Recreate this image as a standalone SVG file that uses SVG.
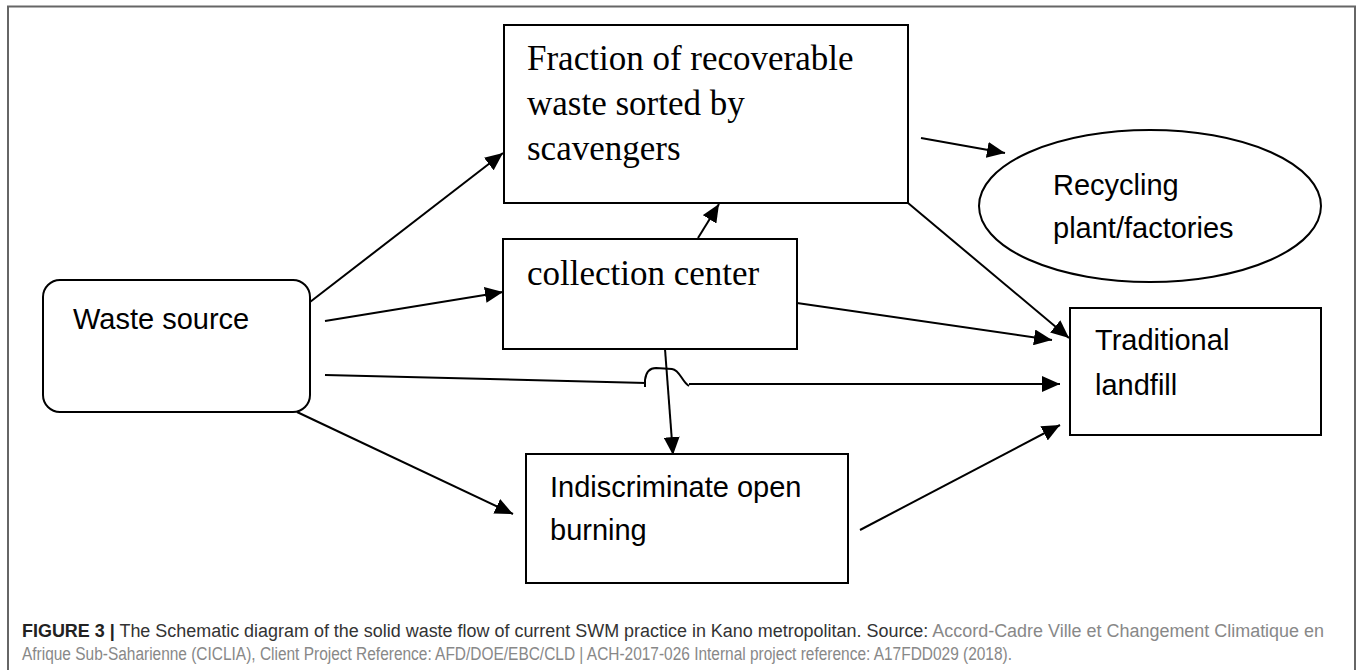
<svg xmlns="http://www.w3.org/2000/svg" width="1357" height="670" viewBox="0 0 1357 670">
<style>
.box{fill:#fff;stroke:#000;stroke-width:2}
.edge{fill:none;stroke:#000;stroke-width:2}
.serif{font-family:"Liberation Serif","Times New Roman",serif;font-size:35px;fill:#000}
.sans{font-family:"Liberation Sans",Arial,sans-serif;font-size:29px;fill:#000}
.cap{font-family:"Liberation Sans",Arial,sans-serif;font-size:18px}
</style>
<defs>
<marker id="ah" markerUnits="userSpaceOnUse" markerWidth="20" markerHeight="16" refX="18" refY="8" orient="auto">
<path d="M0,0 L18,8 L0,16 z" fill="#000"/>
</marker>
</defs>
<rect width="1357" height="670" fill="#fff"/>
<path d="M8,670 L8,6.5 L1355,6.5 L1355,670" fill="none" stroke="#666" stroke-width="2"/>

<g id="connectors">
<line class="edge" x1="310" y1="302" x2="503" y2="153" marker-end="url(#ah)"/>
<line class="edge" x1="325" y1="321" x2="503" y2="292" marker-end="url(#ah)"/>
<path class="edge" d="M325,375 L646,383 M645,387 L645,380 C646,372 650,368 656,368 L672,369 C680,370 682,382 689,386"/>
<line class="edge" x1="689" y1="384" x2="1060" y2="384" marker-end="url(#ah)"/>
<line class="edge" x1="297" y1="412" x2="513" y2="514" marker-end="url(#ah)"/>
<line class="edge" x1="698" y1="238" x2="719" y2="204" marker-end="url(#ah)"/>
<line class="edge" x1="665" y1="349" x2="673" y2="455" marker-end="url(#ah)"/>
<line class="edge" x1="921" y1="138" x2="1005" y2="153" marker-end="url(#ah)"/>
<line class="edge" x1="908" y1="203" x2="1069" y2="338" marker-end="url(#ah)"/>
<line class="edge" x1="797" y1="303" x2="1052" y2="340" marker-end="url(#ah)"/>
<line class="edge" x1="860" y1="530" x2="1060" y2="425" marker-end="url(#ah)"/>
</g>

<g id="waste-source">
<rect class="box" x="43" y="280" width="267" height="132" rx="17" ry="17"/>
<text class="sans" x="73" y="329">Waste source</text>
</g>

<g id="fraction">
<rect class="box" x="504" y="25" width="404" height="178"/>
<text class="serif" x="527" y="70">Fraction of recoverable</text>
<text class="serif" x="527" y="115">waste sorted by</text>
<text class="serif" x="527" y="160">scavengers</text>
</g>

<g id="collection">
<rect class="box" x="503" y="239" width="294" height="110"/>
<text class="serif" x="527" y="285">collection center</text>
</g>

<g id="recycling">
<ellipse class="box" cx="1150" cy="206" rx="171" ry="76"/>
<text class="sans" x="1053" y="195">Recycling</text>
<text class="sans" x="1053" y="238">plant/factories</text>
</g>

<g id="landfill">
<rect class="box" x="1070" y="308" width="251" height="127"/>
<text class="sans" x="1095" y="350">Traditional</text>
<text class="sans" x="1095" y="395">landfill</text>
</g>

<g id="burning">
<rect class="box" x="526" y="454" width="322" height="129"/>
<text class="sans" x="550" y="497">Indiscriminate open</text>
<text class="sans" x="550" y="540">burning</text>
</g>

<g id="caption">
<text class="cap" x="22" y="637" textLength="1302" lengthAdjust="spacingAndGlyphs"><tspan font-weight="bold" fill="#222">FIGURE 3 |</tspan><tspan fill="#333"> The Schematic diagram of the solid waste flow of current SWM practice in Kano metropolitan. Source: </tspan><tspan fill="#888">Accord-Cadre Ville et Changement Climatique en</tspan></text>
<text class="cap" x="22" y="660" textLength="990" lengthAdjust="spacingAndGlyphs" fill="#888">Afrique Sub-Saharienne (CICLIA), Client Project Reference: AFD/DOE/EBC/CLD | ACH-2017-026 Internal project reference: A17FDD029 (2018).</text>
</g>
</svg>
